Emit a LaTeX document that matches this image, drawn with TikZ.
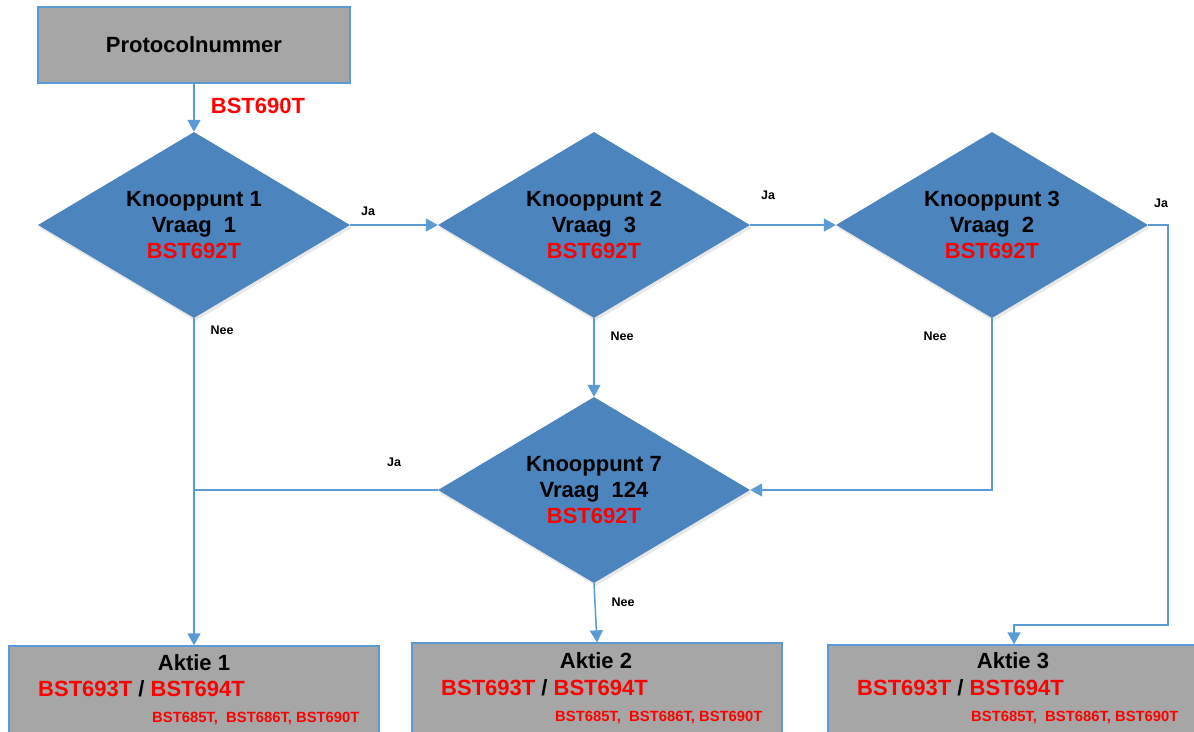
\documentclass[tikz,border=0pt]{standalone}
\usepackage{fontspec}
\setmainfont{Liberation Sans}
\usetikzlibrary{shapes.geometric,arrows.meta,shadows}
\definecolor{boxgray}{RGB}{166,166,166}
\definecolor{lineblue}{RGB}{91,155,213}
\definecolor{diafill}{RGB}{76,132,189}
\definecolor{redtxt}{RGB}{255,0,0}
\newcommand{\bigfont}{\bfseries\fontsize{22}{26}\selectfont}
\newcommand{\smallfont}{\bfseries\fontsize{14.8}{17}\selectfont}
\begin{document}
\begin{tikzpicture}[x=1pt,y=-1pt,
  box/.style={draw=lineblue, line width=1.3pt, fill=boxgray, inner sep=0pt},
  dia/.style={diamond, fill=diafill, draw=none, minimum width=312pt, minimum height=186pt,
    inner sep=0pt, aspect=1.68, align=center, font=\bigfont,
    drop shadow={opacity=0.18, shadow xshift=1.5pt, shadow yshift=-3pt}},
  conn/.style={draw=lineblue, line width=1.5pt},
  arr/.style={conn, -{Triangle[width=13pt,length=12pt]}},
  lbl/.style={font=\bfseries\fontsize{12.5}{14}\selectfont, inner sep=0pt},
  red/.style={text=redtxt, inner sep=0pt}
]
\clip (0,0) rectangle (1194,731);
\fill[white] (0,0) rectangle (1194,731);

% top box
\node[box, minimum width=312pt, minimum height=76pt, font=\bigfont] (proto) at (194,45) {Protocolnummer};
\node[red, font=\bigfont] (p690) at (258,106) {BST690T};

% diamonds
\node[dia] (k1) at (194,225) {Knooppunt 1\\Vraag\ \ 1\\\textcolor{redtxt}{BST692T}};
\node[dia] (k2) at (594,225) {Knooppunt 2\\Vraag\ \ 3\\\textcolor{redtxt}{BST692T}};
\node[dia] (k3) at (992,225) {Knooppunt 3\\Vraag\ \ 2\\\textcolor{redtxt}{BST692T}};
\node[dia] (k7) at (594,490) {Knooppunt 7\\Vraag\ \ 124\\\textcolor{redtxt}{BST692T}};

% action boxes
\node[box, minimum width=370pt, minimum height=96pt] (a1) at (194,694) {};
\node[box, minimum width=370pt, minimum height=98pt] (a2) at (597,692) {};
\node[box, minimum width=372pt, minimum height=96pt] (a3) at (1014,693) {};

\node[font=\bigfont, inner sep=0pt] (a1t) at (194,663) {Aktie 1};
\node[font=\bigfont, inner sep=0pt, anchor=west] (a1b) at (38,689) {\textcolor{redtxt}{BST693T} / \textcolor{redtxt}{BST694T}};
\node[red, font=\smallfont, anchor=west] (a1s) at (152,718) {BST685T,\ \ BST686T, BST690T};

\node[font=\bigfont, inner sep=0pt] (a2t) at (596,661) {Aktie 2};
\node[font=\bigfont, inner sep=0pt, anchor=west] (a2b) at (441,688) {\textcolor{redtxt}{BST693T} / \textcolor{redtxt}{BST694T}};
\node[red, font=\smallfont, anchor=west] (a2s) at (555,717) {BST685T,\ \ BST686T, BST690T};

\node[font=\bigfont, inner sep=0pt] (a3t) at (1013,661) {Aktie 3};
\node[font=\bigfont, inner sep=0pt, anchor=west] (a3b) at (857,688) {\textcolor{redtxt}{BST693T} / \textcolor{redtxt}{BST694T}};
\node[red, font=\smallfont, anchor=west] (a3s) at (971,717) {BST685T,\ \ BST686T, BST690T};

% helper coordinates
\coordinate (cR) at (1168,625);
\coordinate (cJ) at (k1.south |- k7.west);

% connectors
\draw[arr] (proto.south) -- (k1.north);
\draw[arr] (k1.east) -- (k2.west);
\draw[arr] (k2.east) -- (k3.west);
\draw[arr] (k3.east) -| (cR) -| (a3.north);
\draw[arr] (k1.south) -- (a1.north);
\draw[arr] (k2.south) -- (k7.north);
\draw[arr] (k3.south) |- (k7.east);
\draw[conn] (k7.west) -- (cJ);
\draw[arr] (k7.south) -- (a2.north);

% labels
\node[lbl] (l1) at (368,211) {Ja};
\node[lbl] (l2) at (768,195) {Ja};
\node[lbl] (l3) at (1161,203) {Ja};
\node[lbl] (l4) at (222,330) {Nee};
\node[lbl] (l5) at (622,336) {Nee};
\node[lbl] (l6) at (935,336) {Nee};
\node[lbl] (l7) at (394,462) {Ja};
\node[lbl] (l8) at (623,602) {Nee};
\end{tikzpicture}
\end{document}
